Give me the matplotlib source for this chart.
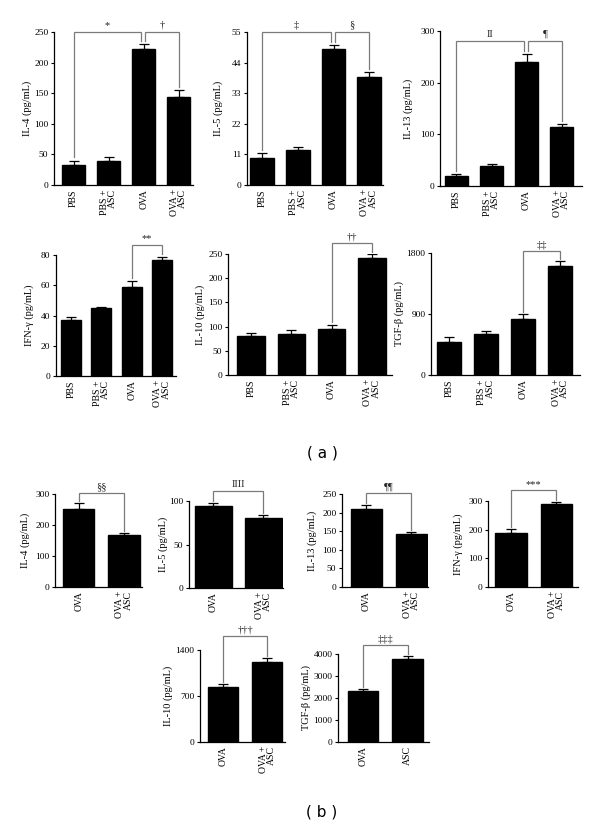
import matplotlib
matplotlib.use("Agg")
import matplotlib.pyplot as plt

W, H = 600, 827
SERIF = ["Liberation Serif", "DejaVu Serif"]
plt.rcParams["font.family"] = SERIF

# ---------------- data ----------------
groups_a = ["PBS", "PBS +\nASC", "OVA", "OVA +\nASC"]

il4_a = [32, 40, 223, 144]
il4_a_err = [8, 6, 8, 11]
il5_a = [9.8, 12.5, 48.8, 39.0]
il5_a_err = [1.7, 1.2, 1.4, 1.5]
il13_a = [20, 38, 240, 114]
il13_a_err = [4, 5, 15, 6]
ifng_a = [37, 45, 59, 77]
ifng_a_err = [2, 0.5, 4, 2]
il10_a = [80, 85, 96, 242]
il10_a_err = [6, 9, 8, 7]
tgfb_a = [480, 610, 830, 1610]
tgfb_a_err = [80, 40, 70, 70]

groups_b = ["OVA", "OVA +\nASC"]
groups_b_tgf = ["OVA", "ASC"]
il4_b = [253, 168]
il4_b_err = [17, 7]
il5_b = [94, 81]
il5_b_err = [4, 3]
il13_b = [211, 143]
il13_b_err = [9, 5]
ifng_b = [190, 288]
ifng_b_err = [13, 9]
il10_b = [830, 1220]
il10_b_err = [60, 60]
tgfb_b = [2330, 3760]
tgfb_b_err = [70, 170]

# ---------------- figure ----------------
fig = plt.figure(figsize=(W / 100, H / 100), dpi=100)


def make_ax(x0, x1, ytop, ybot):
    return fig.add_axes([x0 / W, 1 - ybot / H, (x1 - x0) / W, (ybot - ytop) / H])


def bracket(ax, i, j, level, yi, yj, label, di=0.0, dj=0.0, gap=0.02):
    top = ax.get_ylim()[1]
    g = gap * top
    xi, xj = i + di, j + dj
    ax.plot([xi, xi, xj, xj], [yi + g, level, level, yj + g], color="#7a7a7a",
            lw=0.9, clip_on=False, solid_joinstyle="miter", zorder=4)
    ax.text((xi + xj) / 2, level + 0.015 * top, label, ha="center", va="bottom",
            fontsize=7.5, color="#222222", clip_on=False)


def panel(x0, x1, ytop, ybot, labels, vals, errs, ymax, ticks, ylabel,
          xlim, width, label_off):
    ax = make_ax(x0, x1, ytop, ybot)
    xs = list(range(len(vals)))
    ax.bar(xs, vals, width=width, color="black", edgecolor="black", zorder=2)
    ax.errorbar(xs, vals, yerr=[[0] * len(vals), errs], fmt="none",
                ecolor="black", elinewidth=0.9, capsize=3.5, capthick=0.9, zorder=3)
    ax.set_ylim(0, ymax)
    ax.set_xlim(*xlim)
    ax.set_yticks(ticks)
    ax.set_yticklabels([str(t) for t in ticks], fontsize=6.8)
    ax.set_xticks(xs)
    ax.set_xticklabels(labels, rotation=90, fontsize=7, ha="center", va="top",
                       multialignment="right", linespacing=0.9)
    ax.tick_params(axis="x", length=0, pad=3)
    ax.tick_params(axis="y", length=2.5, width=0.8, pad=1.5)
    for s in ["top", "right"]:
        ax.spines[s].set_visible(False)
    for s in ["left", "bottom"]:
        ax.spines[s].set_linewidth(0.9)
    ax.set_ylabel(ylabel, fontsize=7.5)
    ax.yaxis.set_label_coords(-label_off / (x1 - x0), 0.5)
    return ax


# ---- (a) top row ----
ax = panel(54, 193, 32, 185, groups_a, il4_a, il4_a_err, 250,
           [0, 50, 100, 150, 200, 250], "IL-4 (pg/mL)", (-0.56, 3.41), 0.66, 22)
tops = [v + e for v, e in zip(il4_a, il4_a_err)]
bracket(ax, 0, 2, 250, tops[0], tops[2], "*", dj=-0.07)
bracket(ax, 2, 3, 250, tops[2], tops[3], "†", di=0.05)

ax = panel(247, 383, 32, 185, groups_a, il5_a, il5_a_err, 55,
           [0, 11, 22, 33, 44, 55], "IL-5 (pg/mL)", (-0.43, 3.39), 0.67, 24)
tops = [v + e for v, e in zip(il5_a, il5_a_err)]
bracket(ax, 0, 2, 55, tops[0], tops[2], "‡", dj=-0.07)
bracket(ax, 2, 3, 55, tops[2], tops[3], "§", di=0.05)

ax = panel(440, 582, 31, 186, groups_a, il13_a, il13_a_err, 300,
           [0, 100, 200, 300], "IL-13 (pg/mL)", (-0.47, 3.58), 0.67, 27)
tops = [v + e for v, e in zip(il13_a, il13_a_err)]
bracket(ax, 0, 2, 280, tops[0], tops[2], "II", dj=-0.07)
bracket(ax, 2, 3, 280, tops[2], tops[3], "¶", di=0.05)

# ---- (a) bottom row ----
ax = panel(56, 176, 255, 376, groups_a, ifng_a, ifng_a_err, 80,
           [0, 20, 40, 60, 80], "IFN-γ (pg/mL)", (-0.5, 3.46), 0.66, 22)
tops = [v + e for v, e in zip(ifng_a, ifng_a_err)]
bracket(ax, 2, 3, 86.6, tops[2], tops[3], "**")

ax = panel(228, 392, 254, 375, groups_a, il10_a, il10_a_err, 250,
           [0, 50, 100, 150, 200, 250], "IL-10 (pg/mL)", (-0.57, 3.5), 0.68, 23)
tops = [v + e for v, e in zip(il10_a, il10_a_err)]
bracket(ax, 2, 3, 273, tops[2], tops[3], "††")

ax = panel(431, 580, 253, 375, groups_a, tgfb_a, tgfb_a_err, 1800,
           [0, 900, 1800], "TGF-β (pg/mL)", (-0.48, 3.53), 0.65, 27)
tops = [v + e for v, e in zip(tgfb_a, tgfb_a_err)]
bracket(ax, 2, 3, 1829, tops[2], tops[3], "‡‡")

fig.text(322 / W, 1 - 453 / H, "( a )", ha="center", va="center", fontsize=11,
         family=["DejaVu Sans"])

# ---- (b) top row ----
ax = panel(55, 142, 494, 587, groups_b, il4_b, il4_b_err, 300,
           [0, 100, 200, 300], "IL-4 (pg/mL)", (-0.53, 1.4), 0.69, 25)
tops = [v + e for v, e in zip(il4_b, il4_b_err)]
bracket(ax, 0, 1, 304, tops[0], tops[1], "§§")

ax = panel(189, 283, 501, 588, groups_b, il5_b, il5_b_err, 100,
           [0, 50, 100], "IL-5 (pg/mL)", (-0.48, 1.39), 0.74, 21)
tops = [v + e for v, e in zip(il5_b, il5_b_err)]
bracket(ax, 0, 1, 112, tops[0], tops[1], "IIII")

ax = panel(342, 428, 494, 587, groups_b, il13_b, il13_b_err, 250,
           [0, 50, 100, 150, 200, 250], "IL-13 (pg/mL)", (-0.54, 1.37), 0.69, 25)
tops = [v + e for v, e in zip(il13_b, il13_b_err)]
bracket(ax, 0, 1, 252, tops[0], tops[1], "¶¶")

ax = panel(488, 578, 501, 587, groups_b, ifng_b, ifng_b_err, 300,
           [0, 100, 200, 300], "IFN-γ (pg/mL)", (-0.51, 1.48), 0.69, 25)
tops = [v + e for v, e in zip(ifng_b, ifng_b_err)]
bracket(ax, 0, 1, 337, tops[0], tops[1], "***")

# ---- (b) bottom row ----
ax = panel(200, 285, 650, 742, groups_b, il10_b, il10_b_err, 1400,
           [0, 700, 1400], "IL-10 (pg/mL)", (-0.53, 1.4), 0.68, 27)
tops = [v + e for v, e in zip(il10_b, il10_b_err)]
bracket(ax, 0, 1, 1614, tops[0], tops[1], "†††")

ax = panel(338, 429, 654, 742, groups_b_tgf, tgfb_b, tgfb_b_err, 4000,
           [0, 1000, 2000, 3000, 4000], "TGF-β (pg/mL)", (-0.56, 1.48), 0.69, 27)
tops = [v + e for v, e in zip(tgfb_b, tgfb_b_err)]
bracket(ax, 0, 1, 4427, tops[0], tops[1], "‡‡‡")

fig.text(322 / W, 1 - 812 / H, "( b )", ha="center", va="center", fontsize=11,
         family=["DejaVu Sans"])

fig.savefig("out.png", dpi=100, facecolor="white")
